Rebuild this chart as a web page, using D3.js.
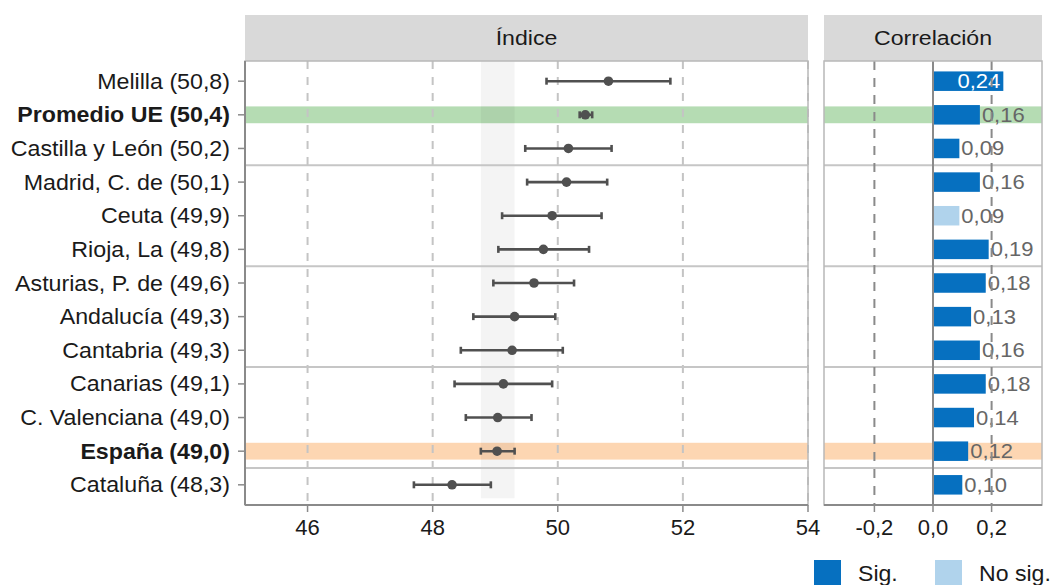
<!DOCTYPE html>
<meta charset="utf-8">
<style>
  body { margin:0; background:#fff; }
  svg { display:block; font-family:"Liberation Sans", Arial, sans-serif; }
</style>
<svg width="1050" height="585"></svg>
<script src="https://d3js.org/d3.v7.min.js"></script>
<script>

// datos
var regiones = ["Melilla", "Promedio UE", "Castilla y León", "Madrid, C. de", "Ceuta", "Rioja, La",
  "Asturias, P. de", "Andalucía", "Cantabria", "Canarias", "C. Valenciana", "España", "Cataluña"];
var indice  = [50.81, 50.44, 50.17, 50.14, 49.91, 49.77, 49.62, 49.31, 49.27, 49.13, 49.04, 49.03, 48.31];
var ciBajo  = [49.82, 50.35, 49.48, 49.51, 49.11, 49.05, 48.97, 48.65, 48.45, 48.35, 48.53, 48.77, 47.70];
var ciAlto  = [51.80, 50.55, 50.86, 50.79, 50.70, 50.50, 50.26, 49.96, 50.08, 49.91, 49.58, 49.31, 48.93];
var correlacion = [0.24, 0.16, 0.09, 0.16, 0.09, 0.19, 0.18, 0.13, 0.16, 0.18, 0.14, 0.12, 0.10];
var significativa = [true, true, true, true, false, true, true, true, true, true, true, true, true];
var grupo = [1, 1, 1, 2, 2, 2, 3, 3, 3, 4, 4, 4, 5];
var destacados = ["Promedio UE", "España"];
var ticksIndice = [46, 48, 50, 52, 54];
var ticksCorr = [-0.2, 0, 0.2];
var leyenda = ["Sig.", "No sig."];

var data = regiones.map(function(r, i) {
  return { region: r, indice: indice[i], lo: ciBajo[i], hi: ciAlto[i],
           cor: correlacion[i], sig: significativa[i], grupo: grupo[i] };
});

var svg = d3.select("svg");
var top0 = 61, bottom0 = 505;
var coma = function(f) { return function(v) { return d3.format(f)(v).replace(".", ",").replace("−", "-"); }; };
// the reference text is a bit wider than Liberation Sans, stretch it a little
var ancho = function(px, py, sx) { return "translate(" + px + "," + py + ")scale(" + sx + ",1)"; };

var x = d3.scaleLinear().domain([45, 54]).range([245, 808]);
var xc = d3.scaleLinear().domain([-0.372, 0.372]).range([824, 1042]);
var y = d3.scalePoint().domain(regiones).range([top0, bottom0]).padding(0.6);
var step = y.step();
var colorBanda = d3.scaleOrdinal().domain(destacados).range(["#b5dcb3", "#fdd6b2"]);
var colorSig = d3.scaleOrdinal().domain(leyenda).range(["#0670c0", "#b0d3ec"]);

// tiras
[[x, "Índice"], [xc, "Correlación"]].forEach(function(p) {
  var r = p[0].range();
  svg.append("rect").attr("x", r[0]).attr("y", 15).attr("width", r[1] - r[0]).attr("height", top0 - 15)
    .attr("fill", "#d9d9d9");
  svg.append("text").attr("transform", ancho((r[0] + r[1]) / 2, 38, 1.1)).attr("dy", "0.35em")
    .attr("text-anchor", "middle").attr("fill", "#1a1a1a").style("font-size", "21px").text(p[1]);
});

// ---- panel izquierdo ----
var gl = svg.append("g");

gl.selectAll(".hl").data(data.filter(function(d) { return destacados.indexOf(d.region) >= 0; }))
  .enter().append("rect")
    .attr("x", x.range()[0]).attr("width", x.range()[1] - x.range()[0])
    .attr("y", function(d) { return y(d.region) - step * 0.25; })
    .attr("height", step * 0.5)
    .attr("fill", function(d) { return colorBanda(d.region); });

gl.selectAll(".grid").data(ticksIndice).enter().append("line")
    .attr("x1", x).attr("x2", x).attr("y1", top0).attr("y2", bottom0)
    .attr("stroke", "#c4c4c4").attr("stroke-width", 2).attr("stroke-dasharray", "8,8");

// banda del intervalo de España
var esp = data.filter(function(d) { return d.region === "España"; })[0];
gl.append("rect")
    .attr("x", x(esp.lo)).attr("width", x(esp.hi) - x(esp.lo))
    .attr("y", top0).attr("height", y(regiones[regiones.length - 1]) + step * 0.4 - top0)
    .attr("fill", "#000").attr("fill-opacity", 0.045);

// separadores de grupo
var seps = data.filter(function(d, i) { return i > 0 && d.grupo !== data[i - 1].grupo; })
  .map(function(d) { return y(d.region) - step / 2; });

function separadores(g, sc) {
  g.selectAll(".sep").data(seps).enter().append("line")
    .attr("x1", sc.range()[0]).attr("x2", sc.range()[1])
    .attr("y1", function(d) { return d; }).attr("y2", function(d) { return d; })
    .attr("stroke", "#c6c6c6").attr("stroke-width", 2);
}
separadores(gl, x);

var eb = gl.selectAll(".eb").data(data).enter().append("g").attr("stroke", "#505050").attr("stroke-width", 2.6);
eb.append("line").attr("x1", function(d) { return x(d.lo); }).attr("x2", function(d) { return x(d.hi); })
    .attr("y1", function(d) { return y(d.region); }).attr("y2", function(d) { return y(d.region); });
eb.append("line").attr("x1", function(d) { return x(d.lo); }).attr("x2", function(d) { return x(d.lo); })
    .attr("y1", function(d) { return y(d.region) - 3.5; }).attr("y2", function(d) { return y(d.region) + 3.5; });
eb.append("line").attr("x1", function(d) { return x(d.hi); }).attr("x2", function(d) { return x(d.hi); })
    .attr("y1", function(d) { return y(d.region) - 3.5; }).attr("y2", function(d) { return y(d.region) + 3.5; });
gl.selectAll(".pt").data(data).enter().append("circle")
    .attr("cx", function(d) { return x(d.indice); }).attr("cy", function(d) { return y(d.region); })
    .attr("r", 4.8).attr("fill", "#505050");

gl.append("rect").attr("x", x.range()[0]).attr("y", top0).attr("width", x.range()[1] - x.range()[0])
    .attr("height", bottom0 - top0).attr("fill", "none").attr("stroke", "#b8b8b8").attr("stroke-width", 1.5);

// ejes izquierdos
var axisCol = "#8a8a8a";
gl.append("line").attr("x1", x.range()[0]).attr("x2", x.range()[0]).attr("y1", top0).attr("y2", bottom0)
    .attr("stroke", axisCol).attr("stroke-width", 2);

var yt = gl.selectAll(".yt").data(data).enter().append("g")
    .attr("transform", function(d) { return "translate(0," + y(d.region) + ")"; });
yt.append("line").attr("x1", x.range()[0] - 7).attr("x2", x.range()[0]).attr("stroke", axisCol).attr("stroke-width", 1.5);
yt.append("text").attr("transform", ancho(x.range()[0] - 15, 0, 1.08)).attr("dy", "0.35em").attr("text-anchor", "end")
    .attr("fill", "#1a1a1a").style("font-size", "21.5px")
    .style("font-weight", function(d) { return destacados.indexOf(d.region) >= 0 ? "bold" : "normal"; })
    .text(function(d) { return d.region + " (" + coma(".1f")(d.indice) + ")"; });

function ejeX(g, sc, ticks, fmt) {
  g.append("line").attr("x1", sc.range()[0]).attr("x2", sc.range()[1]).attr("y1", bottom0).attr("y2", bottom0)
    .attr("stroke", axisCol).attr("stroke-width", 2);
  var t = g.selectAll(".xt").data(ticks).enter().append("g")
    .attr("transform", function(d) { return "translate(" + sc(d) + "," + bottom0 + ")"; });
  t.append("line").attr("y2", 7).attr("stroke", axisCol).attr("stroke-width", 1.5);
  t.append("text").attr("y", 22).attr("dy", "0.35em").attr("text-anchor", "middle")
    .attr("fill", "#1a1a1a").style("font-size", "22px").text(fmt);
}
ejeX(gl, x, ticksIndice, d3.format("d"));

// ---- panel derecho ----
var gr = svg.append("g");

gr.selectAll(".hl").data(data.filter(function(d) { return destacados.indexOf(d.region) >= 0; }))
  .enter().append("rect")
    .attr("x", xc.range()[0]).attr("width", xc.range()[1] - xc.range()[0])
    .attr("y", function(d) { return y(d.region) - step * 0.25; })
    .attr("height", step * 0.5)
    .attr("fill", function(d) { return colorBanda(d.region); });

separadores(gr, xc);

var maxCor = d3.max(correlacion);
gr.selectAll(".bar").data(data).enter().append("rect")
    .attr("x", xc(0)).attr("width", function(d) { return xc(d.cor) - xc(0); })
    .attr("y", function(d) { return y(d.region) - step * 0.29; })
    .attr("height", step * 0.58)
    .attr("fill", function(d) { return colorSig(d.sig ? leyenda[0] : leyenda[1]); });

gr.selectAll(".lbl").data(data).enter().append("text")
    .attr("transform", function(d) {
      return ancho(d.cor === maxCor ? xc(d.cor) - 3 : xc(d.cor) + 2, y(d.region), 1.1);
    })
    .attr("dy", "0.35em")
    .attr("text-anchor", function(d) { return d.cor === maxCor ? "end" : "start"; })
    .attr("fill", function(d) { return d.cor === maxCor ? "#fff" : "#666"; })
    .style("font-size", "20px")
    .text(function(d) { return coma(".2f")(d.cor); });

gr.selectAll(".vl").data(ticksCorr).enter().append("line")
    .attr("x1", xc).attr("x2", xc).attr("y1", top0).attr("y2", bottom0)
    .attr("stroke", "#8a8a8a").attr("stroke-width", 2)
    .attr("stroke-dasharray", function(d) { return d === 0 ? null : "9,8"; });

gr.append("rect").attr("x", xc.range()[0]).attr("y", top0).attr("width", xc.range()[1] - xc.range()[0])
    .attr("height", bottom0 - top0).attr("fill", "none").attr("stroke", "#b8b8b8").attr("stroke-width", 1.5);

ejeX(gr, xc, ticksCorr, coma(".1f"));

// leyenda
var lg = svg.append("g").selectAll("g").data(leyenda).enter().append("g")
    .attr("transform", function(d, i) { return "translate(" + (814 + i * 121) + ",560)"; });
lg.append("rect").attr("width", 27).attr("height", 27).attr("fill", colorSig);
lg.append("text").attr("transform", ancho(44, 21, 1.05)).attr("fill", "#1a1a1a").style("font-size", "22px")
    .text(function(d) { return d; });

</script>
